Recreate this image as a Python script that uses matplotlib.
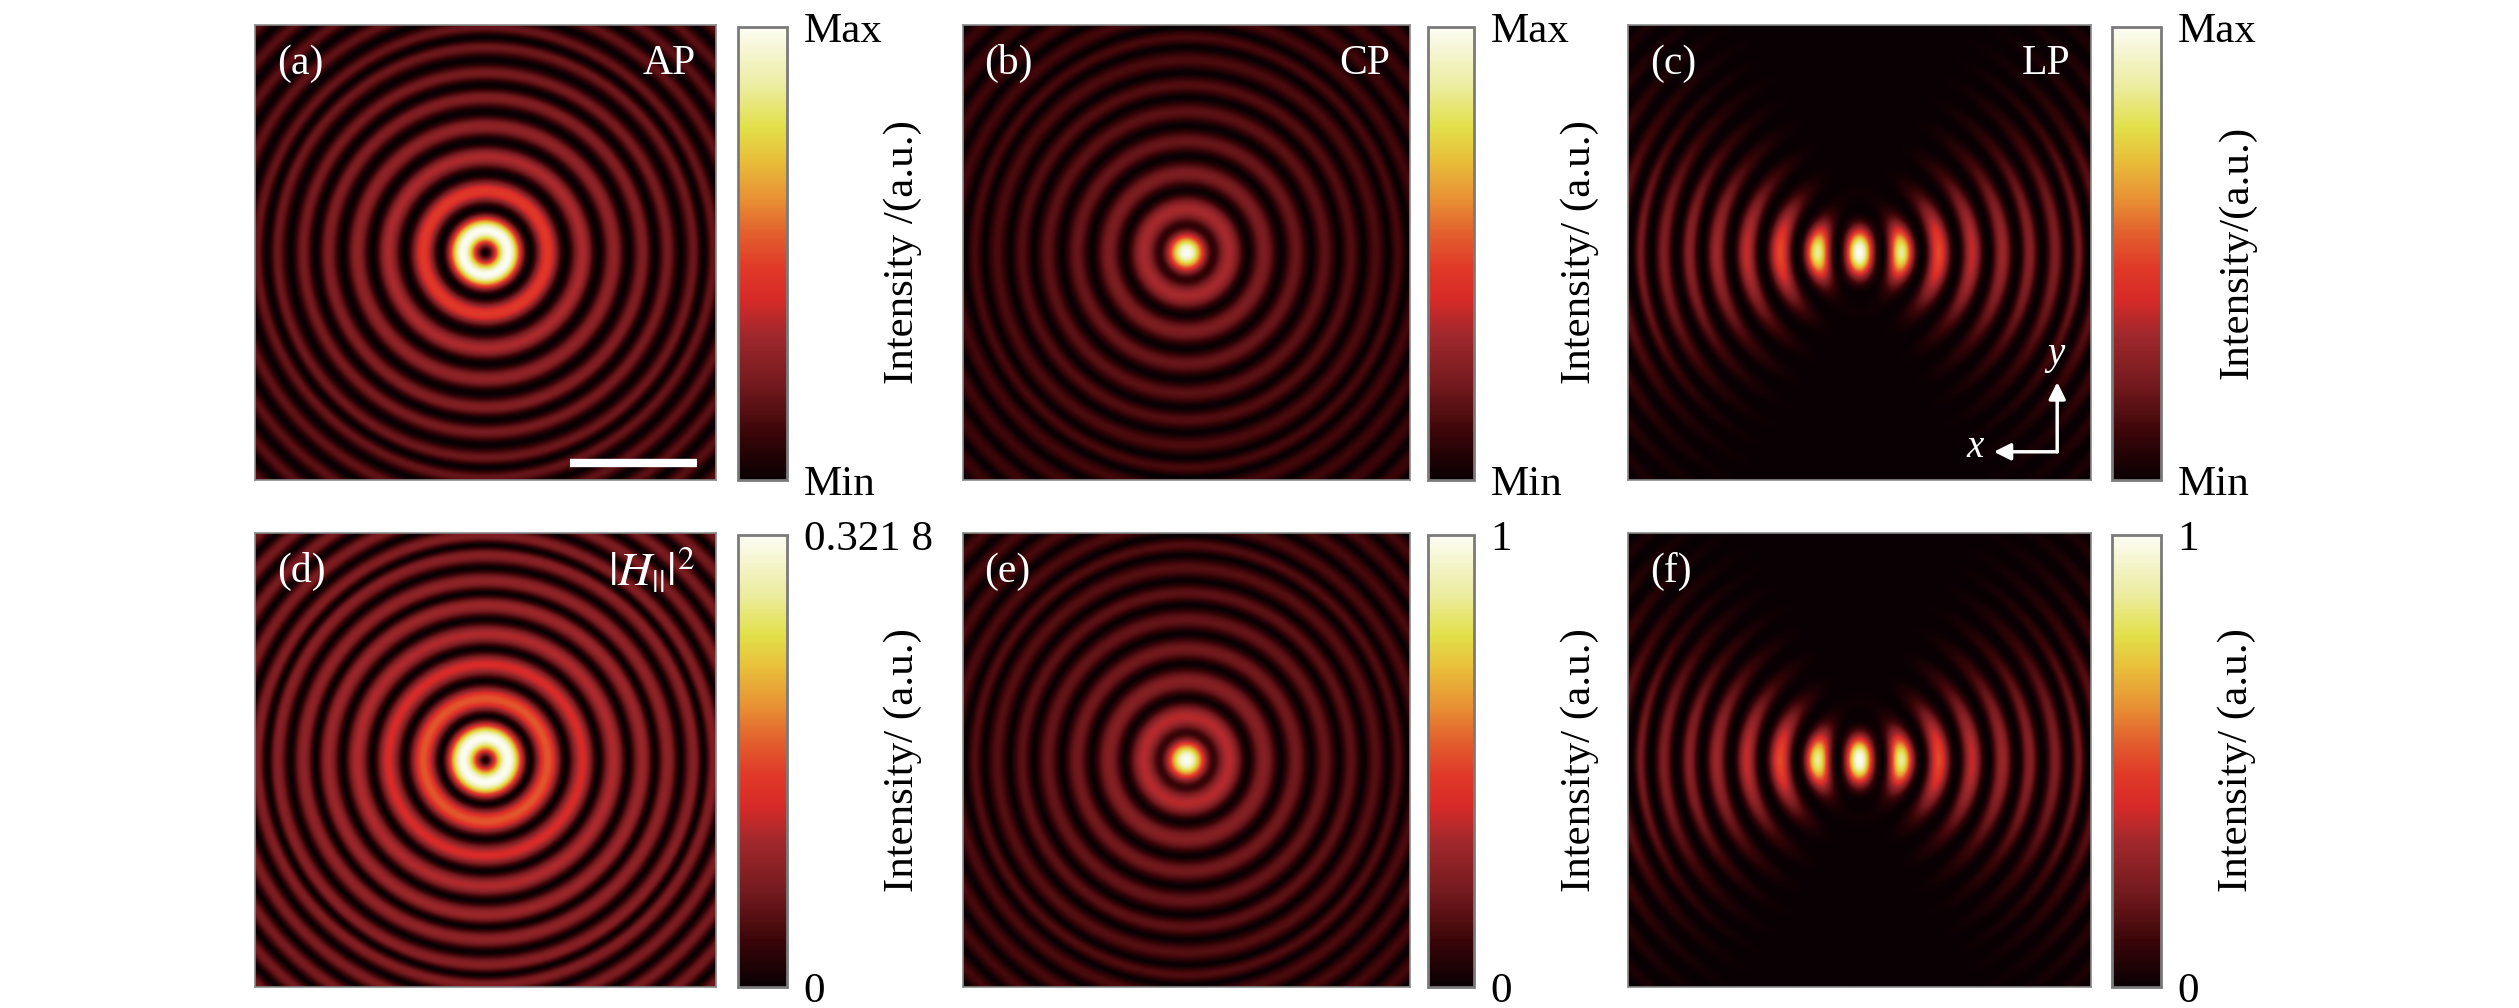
import numpy as np
import matplotlib
matplotlib.use("Agg")
import matplotlib.pyplot as plt
from matplotlib.colors import LinearSegmentedColormap

plt.rcParams["font.family"] = ["Liberation Serif", "DejaVu Serif"]
plt.rcParams["mathtext.fontset"] = "stix"

W, H = 2519, 1008

# ring peak radii, in pixels from the centre
PEAK_R = [22, 62, 97, 128, 157, 182, 208, 228]
# positions of the J1 maxima these radii correspond to
J1_MAX = [1.841, 5.331, 8.536, 11.706, 14.864, 18.016, 21.164, 24.311]

PANELS = ["(a)", "(b)", "(c)", "(d)", "(e)", "(f)"]
TAGS = ["AP", "CP", "LP", r"$|H_{||}|^2$", "", ""]
MODES = ["ap", "cp", "lp", "ap", "cp", "lp"]
GAMMA = [0.9, 0.8, 1.1, 0.75, 0.75, 1.1]
CBAR_MAX = [1, 1, 1, 0.3218, 1, 1]
CBAR_TICKLABELS = [["Min", "Max"], ["Min", "Max"], ["Min", "Max"],
                   ["0", "0.321 8"], ["0", "1"], ["0", "1"]]
CBAR_LABELS = ["Intensity /(a.u.)", "Intensity/ (a.u.)", "Intensity/(a.u.)",
               "Intensity/ (a.u.)", "Intensity/ (a.u.)", "Intensity/ (a.u.)"]

# pixel boxes: image (x0, x1), colorbar (x0, x1), label x
COLS = [(255, 716, 738, 787, 903),
        (963, 1410, 1428, 1474, 1580),
        (1628, 2091, 2112, 2161, 2237)]
ROWS = [(25, 480), (533, 987)]

colors = [(0.0, "#080003"), (0.10, "#3a0508"), (0.21, "#741a1e"),
          (0.32, "#a0282c"), (0.40, "#d82a28"), (0.47, "#e03a28"),
          (0.55, "#e2622e"), (0.62, "#e89034"), (0.71, "#e8c03a"),
          (0.78, "#e2e04a"), (0.87, "#ececa0"), (1.0, "#fcfcf4")]
cmap = LinearSegmentedColormap.from_list("spp", colors)


def bessel(n, x):
    tau = np.linspace(-np.pi, np.pi, 256, endpoint=False)
    return np.cos(n * tau[None, :] - x[:, None] * np.sin(tau[None, :])).mean(axis=1)


def warp(r):
    rr = np.array([0] + PEAK_R, float)
    uu = np.array([0] + J1_MAX, float)
    slope = (uu[-1] - uu[-4]) / (rr[-1] - rr[-4])
    u = np.interp(r, rr, uu)
    far = r > rr[-1]
    u[far] = uu[-1] + (r[far] - rr[-1]) * slope
    return u


half = 230
g = np.linspace(-half, half, 461)
X, Y = np.meshgrid(g, g)
R = np.hypot(X, Y)
PHI = np.arctan2(Y, X)
U = warp(R.ravel()).reshape(R.shape)

xs = np.linspace(0, U.max() + 1, 6000)
j0 = np.interp(U, xs, bessel(0, xs))
j1 = np.interp(U, xs, bessel(1, xs))
j2 = np.interp(U, xs, bessel(2, xs))
# slow radial fall-off of the outer rings
env = np.sqrt(1 + U / 6)


def field(mode):
    if mode == "ap":
        img = j1 ** 2
    elif mode == "cp":
        img = j0 ** 2 + 0.2 * j2 ** 2
    else:
        img = (j0 - j2 * np.cos(2 * PHI)) ** 2 + 0.1 * (j2 * np.sin(2 * PHI)) ** 2
    img = img * env
    return img / img.max()


fig = plt.figure(figsize=(W / 100, H / 100), dpi=100)


def px_axes(x0, x1, y0, y1):
    return fig.add_axes([x0 / W, 1 - y1 / H, (x1 - x0) / W, (y1 - y0) / H])


for i in range(6):
    row, col = divmod(i, 3)
    ix0, ix1, cx0, cx1, lx = COLS[col]
    y0, y1 = ROWS[row]
    ax = px_axes(ix0, ix1, y0, y1)
    data = field(MODES[i]) ** GAMMA[i] * CBAR_MAX[i]
    im = ax.imshow(data, cmap=cmap, vmin=0, vmax=CBAR_MAX[i],
                   extent=[-1, 1, -1, 1], origin="lower", aspect="auto",
                   interpolation="bilinear")
    ax.set_xticks([])
    ax.set_yticks([])
    for s in ax.spines.values():
        s.set_edgecolor("#8a8a8a")
        s.set_linewidth(1.2)
    ax.text(0.048, 0.915, PANELS[i], transform=ax.transAxes, color="white",
            fontsize=30, ha="left", va="center")
    if TAGS[i]:
        ax.text(0.955, 0.915, TAGS[i], transform=ax.transAxes, color="white",
                fontsize=34 if i == 3 else 30, ha="right", va="center")

    cax = px_axes(cx0, cx1, y0 + 2, y1)
    cb = fig.colorbar(im, cax=cax)
    cb.set_ticks([0, CBAR_MAX[i]], labels=CBAR_TICKLABELS[i])
    cax.tick_params(length=0, pad=12, labelsize=31)
    cb.outline.set_edgecolor("#7a7a7a")
    cb.outline.set_linewidth(2)
    fig.text(lx / W, 1 - (y0 + y1) / 2 / H, CBAR_LABELS[i], rotation=90,
             ha="center", va="center", fontsize=31)

    if i == 0:
        ax.plot([0.683, 0.959], [0.037, 0.037], color="white", lw=6,
                transform=ax.transAxes, solid_capstyle="butt")
    if i == 2:
        corner = (0.927, 0.062)
        ax.annotate("", xy=(0.927, 0.215), xytext=corner, xycoords="axes fraction",
                    arrowprops=dict(arrowstyle="-|>", color="white", lw=2.5,
                                    mutation_scale=25, shrinkA=0, shrinkB=0))
        ax.annotate("", xy=(0.79, 0.062), xytext=corner, xycoords="axes fraction",
                    arrowprops=dict(arrowstyle="-|>", color="white", lw=2.5,
                                    mutation_scale=25, shrinkA=0, shrinkB=0))
        ax.text(0.75, 0.072, "x", transform=ax.transAxes, color="white",
                fontsize=28, style="italic", ha="center", va="center")
        ax.text(0.925, 0.275, "y", transform=ax.transAxes, color="white",
                fontsize=28, style="italic", ha="center", va="center")

fig.savefig("out.png", dpi=100, facecolor="white")
